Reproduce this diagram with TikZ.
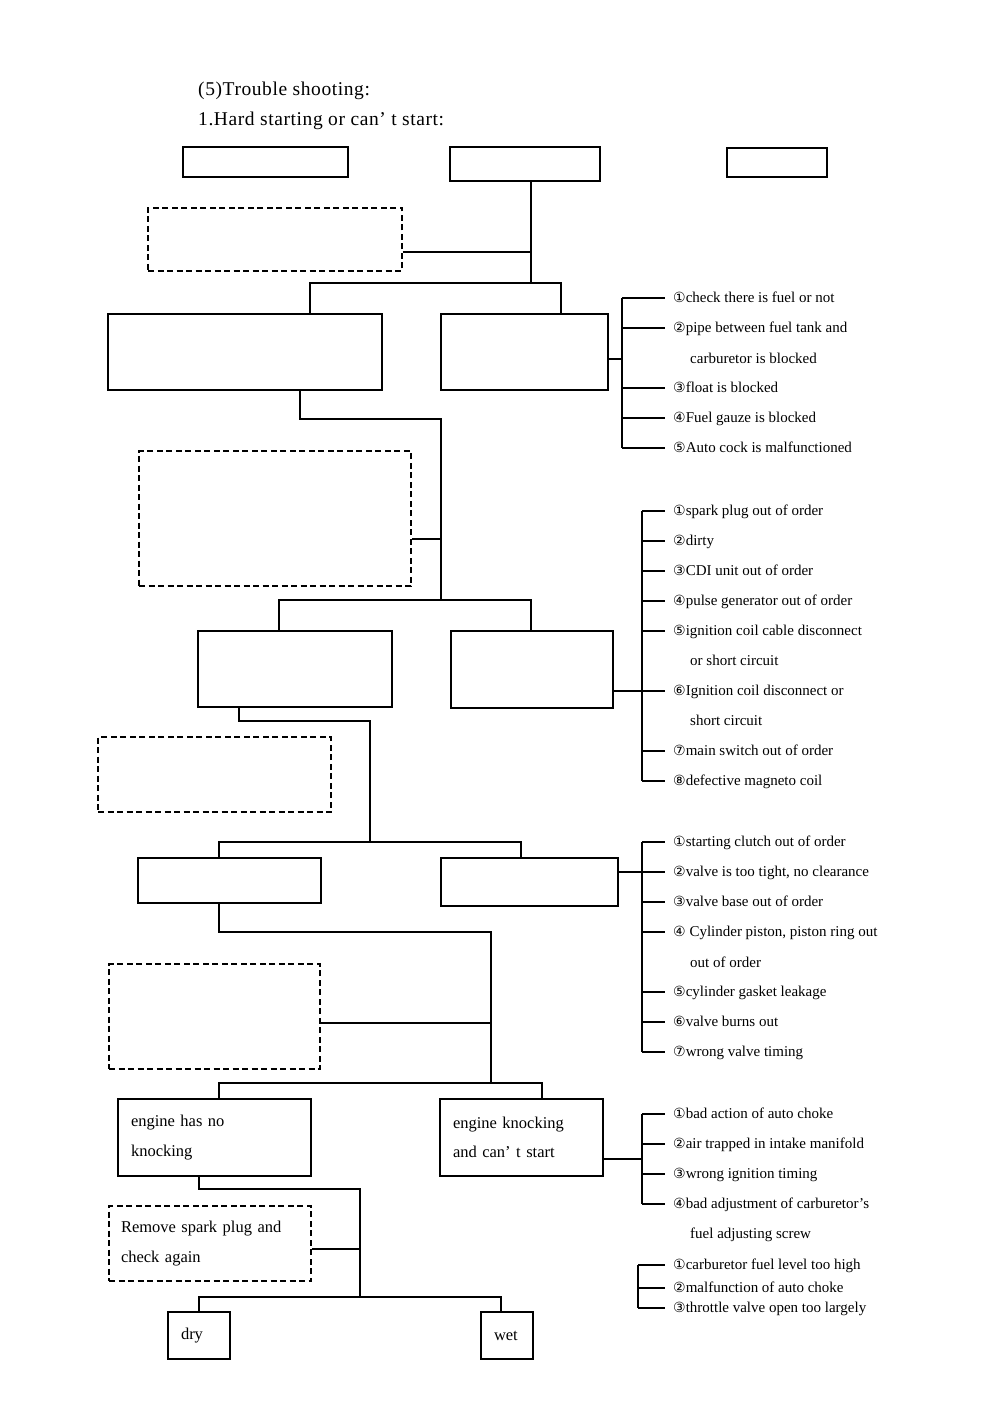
\documentclass[tikz,border=0pt]{standalone}
\usepackage{fontspec}
\setmainfont{Liberation Serif}
\newfontfamily\circfont{DejaVu Sans}
\newfontfamily\titlefont[LetterSpace=3]{Liberation Serif}
\usetikzlibrary{calc, positioning}

\newcommand\cnum[1]{{\circfont\fontsize{14}{14}\selectfont #1}}

\begin{document}
\begin{tikzpicture}[x=1pt, y=-1pt,
        box/.style={draw=black, line width=1.6pt, inner sep=0pt},
        dbox/.style={box, dash pattern=on 6pt off 3.5pt},
        tbox/.style={box, align=left, inner xsep=13pt,
                     font=\fontsize{16.5}{29.5}\selectfont},
        line/.style={line width=1.6pt},
        title/.style={anchor=base west, inner sep=0pt,
                      font=\titlefont\fontsize{19.5}{23}\selectfont},
        cause/.style={anchor=west, inner xsep=8pt, inner ysep=0pt,
                      text height=11pt, text depth=2pt,
                      font=\fontsize{15}{18}\selectfont},
    ]
    \path[use as bounding box, fill=white] (0,0) rectangle (1000,1412);

    % 标题
    \node[title] (ttl1) at (198,96) {(5)Trouble shooting:};
    \node[title] (ttl2) at (198,126) {1.Hard starting or can’ t start:};

    % 顶部三框
    \node[box, minimum width=165, minimum height=30] (T1) at (265.5,162) {};
    \node[box, minimum width=150, minimum height=34] (T2) at (525,164) {};
    \node[box, minimum width=100, minimum height=29] (T3) at (777,162.5) {};

    % 第一层
    \node[dbox, minimum width=254, minimum height=63] (D1) at (275,239.5) {};
    \node[box, minimum width=274, minimum height=76] (A1) at (245,352) {};
    \node[box, minimum width=167, minimum height=76] (B1) at (524.5,352) {};

    % 第二层
    \node[dbox, minimum width=272, minimum height=135] (D2) at (275,518.5) {};
    \node[box, minimum width=194, minimum height=76] (A2) at (295,669) {};
    \node[box, minimum width=162, minimum height=77] (B2) at (532,669.5) {};

    % 第三层
    \node[dbox, minimum width=233, minimum height=75] (D3) at (214.5,774.5) {};
    \node[box, minimum width=183, minimum height=45] (A3) at (229.5,880.5) {};
    \node[box, minimum width=177, minimum height=48] (B3) at (529.5,882) {};

    % 第四层
    \node[dbox, minimum width=211, minimum height=105] (D4) at (214.5,1016.5) {};
    \node[tbox, text width=167, minimum height=77] (A4) at (214.5,1137.5)
        {engine has no\\knocking};
    \node[tbox, text width=137, minimum height=77] (B4) at (521.5,1137.5)
        {engine knocking\\and can’ t start};

    % 第五层
    \node[dbox, tbox, inner xsep=12pt, text width=178, minimum height=75] (D5)
        at (210,1243.5) {Remove spark plug and\\check again};
    \node[tbox, text width=36, minimum height=47] (dry) at (199,1335.5) {dry};
    \node[tbox, text width=26, minimum height=47] (wet) at (507,1335.5) {wet};

    % 连线节点
    \coordinate (j1) at (531,283);
    \coordinate (k1) at (531,252);
    \coordinate (fl1) at (310,283);
    \coordinate (fr1) at (561,283);
    \coordinate (s1) at (300,419);
    \coordinate (j2) at (441,600);
    \coordinate (k2) at (441,539);
    \coordinate (fl2) at (279,600);
    \coordinate (fr2) at (531,600);
    \coordinate (s2) at (239,721);
    \coordinate (j3) at (370,842);
    \coordinate (fl3) at (219,842);
    \coordinate (fr3) at (521,842);
    \coordinate (s3) at (219,932);
    \coordinate (j4) at (491,1083);
    \coordinate (k4) at (491,1023);
    \coordinate (fl4) at (219,1083);
    \coordinate (fr4) at (542,1083);
    \coordinate (s4) at (199,1189);
    \coordinate (j5) at (360,1297);
    \coordinate (k5) at (360,1249);
    \coordinate (fl5) at (199,1297);
    \coordinate (fr5) at (501,1297);

    % 主干
    \draw[line] (T2.south -| j1) -- (j1);
    \draw[line] (k1 -| D1.east) -- (k1);
    \draw[line] (fl1 |- A1.north) -- (fl1) -- (fr1) -- (fr1 |- B1.north);

    \draw[line] (s1 |- A1.south) -- (s1) -| (j2);
    \draw[line] (k2 -| D2.east) -- (k2);
    \draw[line] (fl2 |- A2.north) -- (fl2) -- (fr2) -- (fr2 |- B2.north);

    \draw[line] (s2 |- A2.south) -- (s2) -| (j3);
    \draw[line] (fl3 |- A3.north) -- (fl3) -- (fr3) -- (fr3 |- B3.north);

    \draw[line] (s3 |- A3.south) -- (s3) -| (j4);
    \draw[line] (k4 -| D4.east) -- (k4);
    \draw[line] (fl4 |- A4.north) -- (fl4) -- (fr4) -- (fr4 |- B4.north);

    \draw[line] (s4 |- A4.south) -- (s4) -| (j5);
    \draw[line] (k5 -| D5.east) -- (k5);
    \draw[line] (fl5 |- dry.north) -- (fl5) -- (fr5) -- (fr5 |- wet.north);

    % 原因一
    \node[cause] (c11) at (665,298) {\cnum{①}check there is fuel or not};
    \node[cause] (c12) at (665,328) {\cnum{②}pipe between fuel tank and};
    \node[cause] (c12x) at (682,359) {carburetor is blocked};
    \node[cause] (c13) at (665,388) {\cnum{③}float is blocked};
    \node[cause] (c14) at (665,418) {\cnum{④}Fuel gauze is blocked};
    \node[cause] (c15) at (665,448) {\cnum{⑤}Auto cock is malfunctioned};
    \coordinate (b1) at (622,359);
    \draw[line] (B1.east |- b1) -- (b1);
    \draw[line] (c11.west -| b1) -- (c15.west -| b1);
    \draw[line] (c11.west -| b1) -- (c11.west) (c12.west -| b1) -- (c12.west)
        (c13.west -| b1) -- (c13.west) (c14.west -| b1) -- (c14.west)
        (c15.west -| b1) -- (c15.west);

    % 原因二
    \node[cause] (c21) at (665,511) {\cnum{①}spark plug out of order};
    \node[cause] (c22) at (665,541) {\cnum{②}dirty};
    \node[cause] (c23) at (665,571) {\cnum{③}CDI unit out of order};
    \node[cause] (c24) at (665,601) {\cnum{④}pulse generator out of order};
    \node[cause] (c25) at (665,631) {\cnum{⑤}ignition coil cable disconnect};
    \node[cause] (c25x) at (682,661) {or short circuit};
    \node[cause] (c26) at (665,691) {\cnum{⑥}Ignition coil disconnect or};
    \node[cause] (c26x) at (682,721) {short circuit};
    \node[cause] (c27) at (665,751) {\cnum{⑦}main switch out of order};
    \node[cause] (c28) at (665,781) {\cnum{⑧}defective magneto coil};
    \coordinate (b2) at (642,691);
    \draw[line] (B2.east |- b2) -- (b2);
    \draw[line] (c21.west -| b2) -- (c28.west -| b2);
    \draw[line] (c21.west -| b2) -- (c21.west) (c22.west -| b2) -- (c22.west)
        (c23.west -| b2) -- (c23.west) (c24.west -| b2) -- (c24.west)
        (c25.west -| b2) -- (c25.west) (c26.west -| b2) -- (c26.west)
        (c27.west -| b2) -- (c27.west) (c28.west -| b2) -- (c28.west);

    % 原因三
    \node[cause] (c31) at (665,842) {\cnum{①}starting clutch out of order};
    \node[cause] (c32) at (665,872) {\cnum{②}valve is too tight, no clearance};
    \node[cause] (c33) at (665,902) {\cnum{③}valve base out of order};
    \node[cause] (c34) at (665,932) {\cnum{④} Cylinder piston, piston ring out};
    \node[cause] (c34x) at (682,963) {out of order};
    \node[cause] (c35) at (665,992) {\cnum{⑤}cylinder gasket leakage};
    \node[cause] (c36) at (665,1022) {\cnum{⑥}valve burns out};
    \node[cause] (c37) at (665,1052) {\cnum{⑦}wrong valve timing};
    \coordinate (b3) at (642,872);
    \draw[line] (B3.east |- b3) -- (b3);
    \draw[line] (c31.west -| b3) -- (c37.west -| b3);
    \draw[line] (c31.west -| b3) -- (c31.west) (c32.west -| b3) -- (c32.west)
        (c33.west -| b3) -- (c33.west) (c34.west -| b3) -- (c34.west)
        (c35.west -| b3) -- (c35.west) (c36.west -| b3) -- (c36.west)
        (c37.west -| b3) -- (c37.west);

    % 原因四
    \node[cause] (c41) at (665,1114) {\cnum{①}bad action of auto choke};
    \node[cause] (c42) at (665,1144) {\cnum{②}air trapped in intake manifold};
    \node[cause] (c43) at (665,1174) {\cnum{③}wrong ignition timing};
    \node[cause] (c44) at (665,1204) {\cnum{④}bad adjustment of carburetor’s};
    \node[cause] (c44x) at (682,1234) {fuel adjusting screw};
    \coordinate (b4) at (642,1159);
    \draw[line] (B4.east |- b4) -- (b4);
    \draw[line] (c41.west -| b4) -- (c44.west -| b4);
    \draw[line] (c41.west -| b4) -- (c41.west) (c42.west -| b4) -- (c42.west)
        (c43.west -| b4) -- (c43.west) (c44.west -| b4) -- (c44.west);

    % 原因五
    \node[cause] (c51) at (665,1265) {\cnum{①}carburetor fuel level too high};
    \node[cause] (c52) at (665,1288) {\cnum{②}malfunction of auto choke};
    \node[cause] (c53) at (665,1308) {\cnum{③}throttle valve open too largely};
    \coordinate (b5) at (638,1288);
    \draw[line] (c51.west -| b5) -- (c53.west -| b5);
    \draw[line] (c51.west -| b5) -- (c51.west) (c52.west -| b5) -- (c52.west)
        (c53.west -| b5) -- (c53.west);

\end{tikzpicture}
\end{document}
